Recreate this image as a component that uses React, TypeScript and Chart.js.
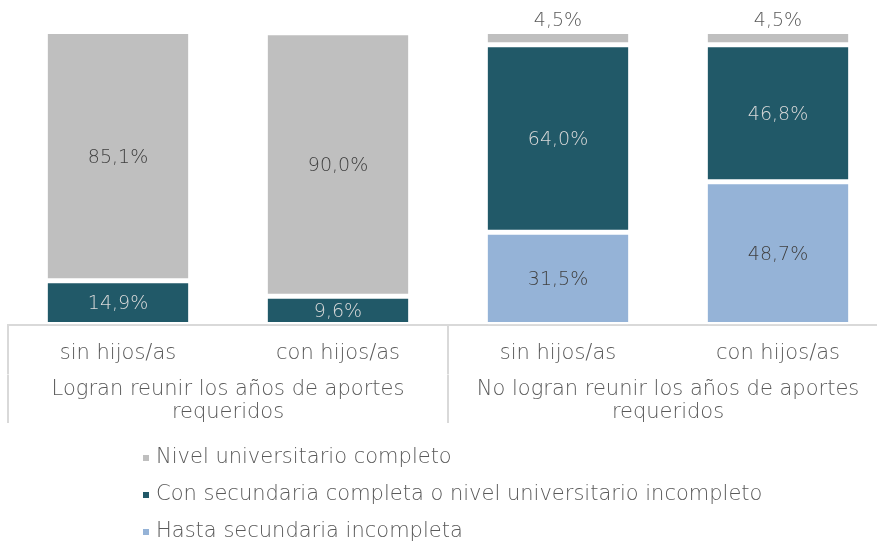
import React, { useEffect, useRef } from 'react';
import { Chart, registerables } from 'chart.js';

Chart.register(...registerables);

const categories = ['sin hijos/as', 'con hijos/as', 'sin hijos/as', 'con hijos/as'];
const groupLabels = [
  ['Logran reunir los años de aportes', 'requeridos'],
  ['No logran reunir los años de aportes', 'requeridos'],
];
const seriesNames = [
  'Hasta secundaria incompleta',
  'Con secundaria completa o nivel universitario incompleto',
  'Nivel universitario completo',
];
const hastaSecundaria = [0, 0, 31.5, 48.7];
const conSecundaria = [14.9, 9.6, 64.0, 46.8];
const nivelUniversitario = [85.1, 90.0, 4.5, 4.5];

const FONT = '"DejaVu Sans"';
const WEIGHT = '200';
const TEXT = '#595959';
const LINE = '#D9D9D9';
const NONE = 'rgba(0,0,0,0)';
const seriesColors = ['#95B3D7', '#215968', '#BFBFBF'];
const valueColors = ['#404040', '#D9D9D9', '#404040'];

const fmt = (v: number) => v.toFixed(1).replace('.', ',') + '%';

const valueLabels = {
  id: 'valueLabels',
  afterDatasetsDraw(chart: any) {
    const ctx = chart.ctx;
    ctx.save();
    ctx.font = `${WEIGHT} 19px ${FONT}`;
    ctx.textAlign = 'center';
    ctx.textBaseline = 'middle';
    chart.data.datasets.forEach((ds: any, di: number) => {
      const meta = chart.getDatasetMeta(di);
      meta.data.forEach((el: any, i: number) => {
        const v = ds.data[i];
        if (!v) return;
        const { x, y, base } = el.getProps(['x', 'y', 'base'], true);
        const h = Math.abs(base - y);
        if (h < 25) {
          ctx.fillStyle = TEXT;
          ctx.fillText(fmt(v), x, y - 10);
        } else {
          ctx.fillStyle = valueColors[di];
          ctx.fillText(fmt(v), x, (y + base) / 2 + 1.5);
        }
      });
    });
    ctx.restore();
  },
};

const listLegend = {
  id: 'listLegend',
  afterDraw(chart: any) {
    const ctx = chart.ctx;
    const x2 = chart.scales.x2;
    ctx.save();
    ctx.font = `${WEIGHT} 21px ${FONT}`;
    ctx.textAlign = 'left';
    ctx.textBaseline = 'middle';
    const order = [2, 1, 0];
    order.forEach((di, k) => {
      const ds = chart.data.datasets[di];
      const cy = x2.bottom + 35 + k * 37;
      ctx.fillStyle = ds.backgroundColor;
      ctx.fillRect(143, cy - 3, 6, 6);
      ctx.fillStyle = TEXT;
      ctx.fillText(ds.label, 156, cy);
    });
    ctx.restore();
  },
};

export default function App() {
  const ref = useRef<HTMLCanvasElement | null>(null);

  useEffect(() => {
    if (!ref.current) return;
    const common = {
      borderColor: '#FFFFFF',
      borderWidth: { top: 2.5, bottom: 2.5, left: 0, right: 0 },
      borderSkipped: false,
      barPercentage: 0.64,
      categoryPercentage: 1,
    };
    const chart = new Chart(ref.current, {
      type: 'bar',
      data: {
        labels: categories,
        datasets: [
          { label: seriesNames[0], data: hastaSecundaria, backgroundColor: seriesColors[0], ...common },
          { label: seriesNames[1], data: conSecundaria, backgroundColor: seriesColors[1], ...common },
          { label: seriesNames[2], data: nivelUniversitario, backgroundColor: seriesColors[2], ...common },
        ],
      } as any,
      options: {
        responsive: false,
        animation: false,
        layout: { padding: { top: 31.5, left: 8, right: 2, bottom: 124 } },
        plugins: { legend: { display: false }, tooltip: { enabled: false } },
        scales: {
          x: {
            stacked: true,
            offset: true,
            weight: 0,
            grid: {
              offset: true,
              drawOnChartArea: false,
              drawTicks: true,
              tickLength: 50,
              lineWidth: 2,
              color: (c: any) => (c.index !== undefined && c.index % 2 === 0 ? LINE : NONE),
            },
            border: { display: true, color: LINE, width: 2 },
            ticks: {
              color: TEXT,
              font: { family: FONT, size: 21, weight: WEIGHT as any },
              padding: 16 - 50,
              maxRotation: 0,
              autoSkip: false,
            },
            afterFit: (s: any) => {
              s.height = 50;
            },
          },
          x2: {
            type: 'category',
            labels: groupLabels as any,
            position: 'bottom',
            offset: true,
            weight: 1,
            grid: {
              offset: true,
              drawOnChartArea: false,
              drawTicks: true,
              tickLength: 48.5,
              lineWidth: 2,
              color: (c: any) => (c.index !== undefined ? LINE : NONE),
            },
            border: { display: false },
            ticks: {
              color: TEXT,
              font: { family: FONT, size: 21, weight: WEIGHT as any, lineHeight: 1.05 },
              padding: 4.5 - 48.5,
              maxRotation: 0,
              autoSkip: false,
            },
            afterFit: (s: any) => {
              s.height = 48.5;
            },
          },
          y: { stacked: true, display: false, min: 0, max: 100 },
        },
      } as any,
      plugins: [valueLabels, listLegend],
    });
    return () => chart.destroy();
  }, []);

  return (
    <div
      style={{
        position: 'fixed',
        left: 0,
        top: 0,
        width: 877,
        height: 547,
        overflow: 'hidden',
        background: '#FFFFFF',
      }}
    >
      <canvas ref={ref} width={890} height={547} style={{ display: 'block', width: 890, height: 547 }} />
    </div>
  );
}
